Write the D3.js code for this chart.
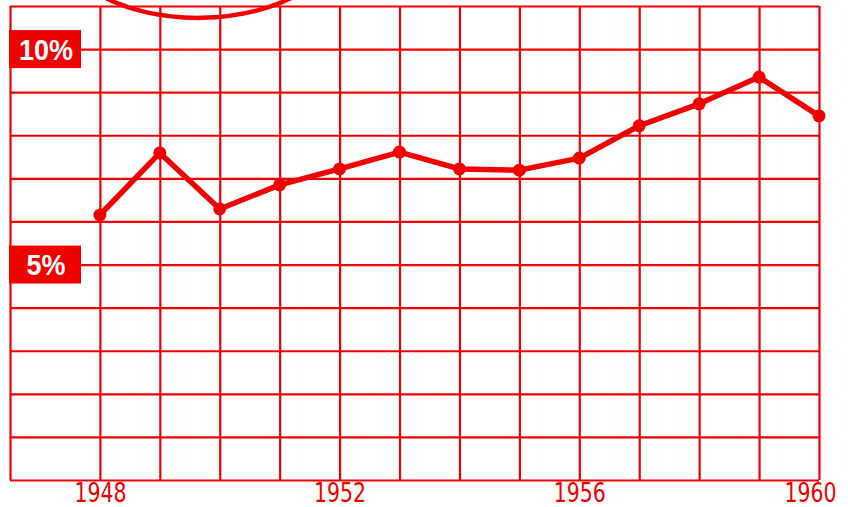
<!DOCTYPE html>
<html><head><meta charset="utf-8">
<script src="https://cdn.jsdelivr.net/npm/d3@7"></script>
<style>
html,body{margin:0;padding:0;background:#fff;}
svg{display:block;}
</style></head>
<body>
<svg id="chart" width="848" height="507"></svg>
<script>
const years = [1948,1949,1950,1951,1952,1953,1954,1955,1956,1957,1958,1959,1960];
const values = [6.15,7.59,6.29,6.85,7.22,7.61,7.22,7.19,7.47,8.22,8.73,9.35,8.45];
const xTickValues = [1948,1952,1956,1960];
const xTickLabels = ["1948","1952","1956","1960"];
const yTickValues = [10,5];
const yTickLabels = ["10%","5%"];
const gridRows = d3.range(0,12);

const RED = "#f20000";
const svg = d3.select("#chart");
const x = d3.scaleLinear().domain([1946.5,1960]).range([10,819]);
const y = d3.scaleLinear().domain([0,11]).range([480,6]);

// horizontal grid
svg.append("g").attr("transform",`translate(${x(1946.5)},0)`)
  .call(d3.axisLeft(y).tickValues(gridRows).tickSize(-(x(1960)-x(1946.5))).tickFormat(""))
  .call(g=>g.select(".domain").remove())
  .call(g=>g.selectAll(".tick line").attr("stroke",RED).attr("stroke-width",2.2));

// vertical grid
svg.append("g").attr("transform",`translate(0,${y(0)})`)
  .call(d3.axisBottom(x).tickValues([1946.5].concat(years)).tickSize(-(y(0)-y(11))).tickFormat(""))
  .call(g=>g.select(".domain").remove())
  .call(g=>g.selectAll(".tick line").attr("stroke",RED).attr("stroke-width",2.2));

// decorative arc at top (partially cropped element)
const arc = d3.path();
arc.moveTo(x(1947.95), y(11.3));
arc.bezierCurveTo(x(1948.9), y(10.5), x(1950.5), y(10.55), x(1951.4), y(11.35));
svg.append("path").attr("d",arc.toString()).attr("fill","none").attr("stroke",RED).attr("stroke-width",4.5);

// x labels
svg.append("g").attr("transform",`translate(0,${y(0)})`)
  .call(d3.axisBottom(x).tickValues(xTickValues).tickSize(0).tickPadding(4)
    .tickFormat((d,i)=>xTickLabels[i]))
  .call(g=>g.select(".domain").remove())
  .call(g=>g.selectAll(".tick text")
     .attr("fill",RED)
     .attr("dy","0.71em")
     .attr("dx",(d,i)=>i===xTickValues.length-1?-9:0)
     .style("font-family","'Liberation Sans Narrow','DejaVu Sans Condensed',sans-serif")
     .style("font-size","26px")
     .attr("textLength",52).attr("lengthAdjust","spacingAndGlyphs"));

// y labels in boxes
const yl = svg.append("g").selectAll("g").data(yTickValues).join("g")
  .attr("transform",d=>`translate(${x(1946.5)},${y(d)})`);
yl.append("rect").attr("x",-1).attr("y",-19).attr("width",72).attr("height",38).attr("fill",RED);
yl.append("text").attr("x",36).attr("y",0).attr("dy","0.36em")
  .attr("text-anchor","middle").attr("fill","#fff")
  .style("font-family","'Liberation Sans','DejaVu Sans',sans-serif")
  .style("font-weight","bold").style("font-size","29px")
  .text((d,i)=>yTickLabels[i])
  .each(function(d,i){ d3.select(this).attr("textLength", i===0?54:39).attr("lengthAdjust","spacingAndGlyphs"); });

// data line
const line = d3.line().x((d,i)=>x(years[i])).y(d=>y(d));
svg.append("path").datum(values).attr("d",line)
  .attr("fill","none").attr("stroke",RED).attr("stroke-width",5.5).attr("stroke-linejoin","round");
svg.append("g").selectAll("circle").data(values).join("circle")
  .attr("cx",(d,i)=>x(years[i])).attr("cy",d=>y(d)).attr("r",6.5).attr("fill",RED);
</script>
</body></html>
